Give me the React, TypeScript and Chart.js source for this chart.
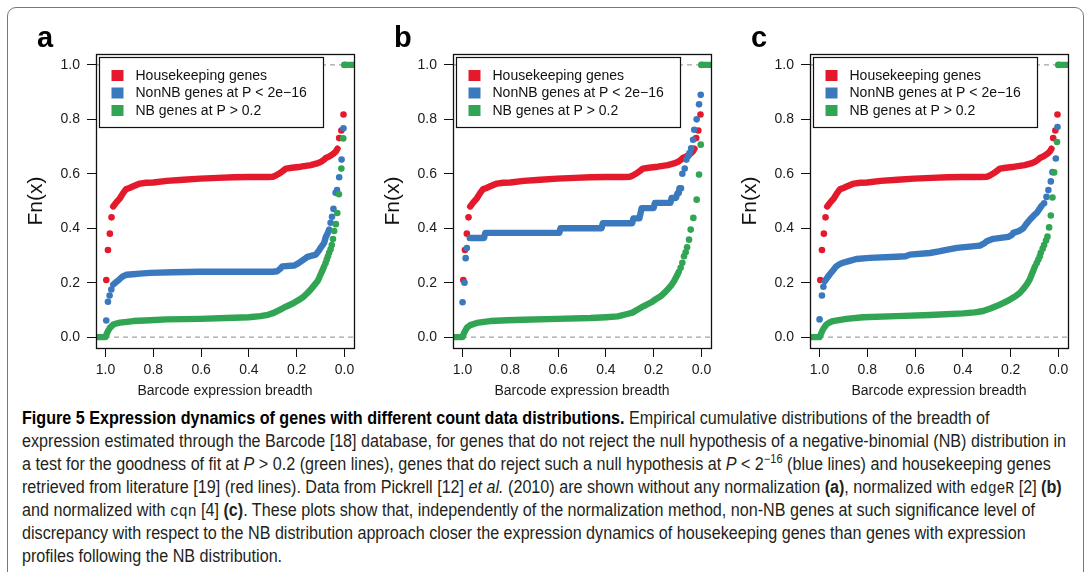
import React, { useEffect, useRef } from "react";
import { Chart, registerables } from "chart.js";

Chart.register(...registerables);

// ---------- axes ----------
const xTickValues = [0.0, 0.2, 0.4, 0.6, 0.8, 1.0];
const yTickValues = [0.0, 0.2, 0.4, 0.6, 0.8, 1.0];
const axisMin = -0.04;
const axisMax = 1.04;
const referenceLevels = [0, 1];
const xAxisTitle = "Barcode expression breadth";
const yAxisTitle = "Fn(x)";

// ---------- series ----------
const seriesLabels = ["Housekeeping genes", "NonNB genes at P < 2e\u221216", "NB genes at P > 0.2"];
const seriesColors = ["#e41a2c", "#3a79be", "#31a553"];
const panelLetters = ["a", "b", "c"];

type Pt = [number, number];

// Housekeeping genes (identical in the three panels)
const hkCurve: Pt[] = [
  [0.968, 0.48], [0.955, 0.495], [0.94, 0.51], [0.926, 0.53], [0.915, 0.543], [0.9, 0.548],
  [0.884, 0.554], [0.856, 0.564], [0.83, 0.567], [0.8, 0.568], [0.744, 0.574], [0.674, 0.578],
  [0.604, 0.582], [0.53, 0.585], [0.464, 0.587], [0.4, 0.588], [0.324, 0.588], [0.3, 0.589],
  [0.289, 0.593], [0.275, 0.6], [0.26, 0.609], [0.245, 0.619], [0.22, 0.622], [0.183, 0.626],
  [0.141, 0.632], [0.115, 0.638], [0.1, 0.643], [0.085, 0.652], [0.078, 0.658], [0.065, 0.663],
  [0.057, 0.667], [0.043, 0.676], [0.035, 0.683], [0.029, 0.692],
];
const hkDots: Pt[] = [
  [0.997, 0.21], [0.99, 0.32], [0.982, 0.38], [0.975, 0.44],
  [0.022, 0.731], [0.013, 0.759], [0.004, 0.818],
];

// Panel a: no normalization
const aNonNbCurve: Pt[] = [
  [0.968, 0.193], [0.955, 0.203], [0.947, 0.208], [0.935, 0.218], [0.926, 0.224], [0.912, 0.229],
  [0.885, 0.231], [0.856, 0.233], [0.814, 0.236], [0.716, 0.238], [0.604, 0.24], [0.464, 0.24],
  [0.3, 0.24], [0.282, 0.242], [0.27, 0.25], [0.26, 0.26], [0.211, 0.263], [0.195, 0.27],
  [0.183, 0.277], [0.165, 0.288], [0.155, 0.295], [0.12, 0.303], [0.105, 0.32], [0.1, 0.328],
  [0.09, 0.34], [0.085, 0.346], [0.078, 0.368], [0.071, 0.38], [0.064, 0.395],
];
const aNonNbDots: Pt[] = [
  [0.997, 0.061], [0.99, 0.13], [0.983, 0.153], [0.976, 0.175],
  [0.058, 0.42], [0.052, 0.442], [0.046, 0.471], [0.037, 0.53], [0.031, 0.54],
  [0.022, 0.587], [0.012, 0.652], [0.004, 0.767],
];
const aNbCurve: Pt[] = [
  [1.04, 0], [1.0, 0], [0.996, 0.01], [0.99, 0.022], [0.982, 0.034], [0.968, 0.046],
  [0.955, 0.05], [0.94, 0.053], [0.91, 0.056], [0.884, 0.059], [0.814, 0.062], [0.744, 0.065],
  [0.604, 0.067], [0.464, 0.071], [0.4, 0.073], [0.352, 0.077], [0.32, 0.082], [0.296, 0.089],
  [0.275, 0.098], [0.254, 0.108], [0.232, 0.117], [0.211, 0.126], [0.19, 0.137], [0.169, 0.15],
  [0.155, 0.162], [0.141, 0.175], [0.127, 0.19], [0.113, 0.205], [0.106, 0.218], [0.1, 0.23],
  [0.092, 0.245], [0.085, 0.26],
];
const aNbDots: Pt[] = [
  [0.079, 0.272], [0.074, 0.285], [0.069, 0.297], [0.064, 0.31], [0.058, 0.323], [0.053, 0.338],
  [0.048, 0.36], [0.043, 0.39], [0.036, 0.415], [0.03, 0.456], [0.023, 0.525], [0.013, 0.619],
  [0.005, 0.73], [0.0, 1.0],
];

// Panel b: edgeR
const bNonNbCurve: Pt[] = [
  [0.97, 0.364], [0.91, 0.364], [0.905, 0.383], [0.595, 0.383], [0.59, 0.4], [0.418, 0.4],
  [0.413, 0.418], [0.29, 0.418], [0.285, 0.436], [0.26, 0.436], [0.255, 0.455], [0.25, 0.474],
  [0.2, 0.474], [0.195, 0.493], [0.13, 0.493], [0.125, 0.511], [0.107, 0.511], [0.1, 0.529],
  [0.095, 0.529], [0.092, 0.547], [0.085, 0.547],
];
const bNonNbDots: Pt[] = [
  [1.0, 0.128], [0.992, 0.2], [0.987, 0.29], [0.982, 0.327],
  [0.08, 0.6], [0.07, 0.619], [0.063, 0.652], [0.055, 0.665], [0.05, 0.676], [0.043, 0.694],
  [0.035, 0.725], [0.03, 0.762], [0.02, 0.8], [0.01, 0.855], [0.003, 0.89],
];
const bNbCurve: Pt[] = [
  [1.04, 0], [1.0, 0], [0.996, 0.01], [0.99, 0.022], [0.982, 0.034], [0.968, 0.044],
  [0.94, 0.052], [0.91, 0.056], [0.884, 0.059], [0.814, 0.062], [0.744, 0.064], [0.604, 0.067],
  [0.464, 0.07], [0.4, 0.073], [0.35, 0.076], [0.311, 0.085], [0.289, 0.09], [0.265, 0.102],
  [0.241, 0.114], [0.21, 0.128], [0.19, 0.14], [0.171, 0.15], [0.15, 0.167], [0.129, 0.187],
  [0.115, 0.205], [0.103, 0.225], [0.095, 0.24],
];
const bNbDots: Pt[] = [
  [0.087, 0.255], [0.08, 0.273], [0.073, 0.297], [0.066, 0.312], [0.06, 0.33], [0.052, 0.358],
  [0.045, 0.395], [0.034, 0.438], [0.02, 0.505], [0.01, 0.597], [0.003, 0.707], [0.0, 1.0],
];

// Panel c: cqn
const cNonNbCurve: Pt[] = [
  [0.978, 0.205], [0.968, 0.218], [0.958, 0.23], [0.944, 0.245], [0.93, 0.26], [0.916, 0.268],
  [0.902, 0.273], [0.874, 0.28], [0.846, 0.287], [0.79, 0.291], [0.678, 0.295], [0.64, 0.297],
  [0.622, 0.303], [0.538, 0.309], [0.5, 0.315], [0.48, 0.319], [0.425, 0.328], [0.329, 0.336],
  [0.31, 0.345], [0.3, 0.352], [0.273, 0.361], [0.21, 0.368], [0.195, 0.375], [0.189, 0.383],
  [0.165, 0.39], [0.147, 0.4], [0.135, 0.415], [0.119, 0.432], [0.105, 0.445], [0.091, 0.456],
  [0.08, 0.47], [0.07, 0.483],
];
const cNonNbDots: Pt[] = [
  [1.0, 0.065], [0.99, 0.153], [0.984, 0.185],
  [0.06, 0.492], [0.05, 0.515], [0.042, 0.54], [0.032, 0.572], [0.025, 0.606], [0.011, 0.656],
  [0.004, 0.772],
];
const cNbCurve: Pt[] = [
  [1.04, 0], [1.0, 0], [0.993, 0.014], [0.986, 0.028], [0.972, 0.046], [0.958, 0.054],
  [0.944, 0.059], [0.888, 0.067], [0.818, 0.073], [0.678, 0.077], [0.538, 0.081], [0.399, 0.087],
  [0.35, 0.091], [0.315, 0.096], [0.285, 0.105], [0.259, 0.114], [0.23, 0.126], [0.203, 0.138],
  [0.18, 0.15], [0.161, 0.163], [0.147, 0.177], [0.133, 0.193], [0.12, 0.212], [0.112, 0.23],
  [0.105, 0.245], [0.098, 0.26],
];
const cNbDots: Pt[] = [
  [0.091, 0.272], [0.084, 0.285], [0.078, 0.297], [0.074, 0.31], [0.066, 0.325], [0.06, 0.338],
  [0.052, 0.355], [0.046, 0.369], [0.039, 0.403], [0.032, 0.447], [0.025, 0.513], [0.018, 0.605],
  [0.006, 0.717], [0.0, 1.0],
];

// final ECDF segment of the NB series (F = 1 beyond breadth 0)
const nbTail: Pt[] = [[0.0, 1.0], [-0.04, 1.0]];

const FONT = "'Liberation Sans', Arial, Helvetica, sans-serif";

const framePlugin = {
  id: "frame",
  afterDatasetsDraw(chart: any) {
    const { ctx, chartArea: a } = chart;
    const lx = Math.round(a.left + 3) + 0.5;
    const ly = Math.round(a.top + 3) + 0.5;
    const lw = 224;
    const lh = 70;
    ctx.save();
    ctx.fillStyle = "#ffffff";
    ctx.fillRect(lx, ly, lw, lh);
    ctx.strokeStyle = "#111";
    ctx.lineWidth = 1.2;
    ctx.strokeRect(lx, ly, lw, lh);
    ctx.font = `14px ${FONT}`;
    ctx.textBaseline = "middle";
    ctx.textAlign = "left";
    const items = chart.data.datasets.filter((d: any) => d.legendItem);
    items.forEach((d: any, i: number) => {
      const cy = ly + 18 + i * 17.5;
      ctx.fillStyle = d.backgroundColor;
      ctx.fillRect(lx + 12, cy - 5.5, 12, 11);
      ctx.fillStyle = "#111";
      ctx.fillText(d.label, lx + 36, cy + 0.5);
    });
    ctx.restore();
  },
  afterDraw(chart: any) {
    const { ctx, chartArea: a } = chart;
    ctx.save();
    ctx.strokeStyle = "#111";
    ctx.lineWidth = 1.3;
    ctx.strokeRect(Math.round(a.left) + 0.5, Math.round(a.top) + 0.5, Math.round(a.right - a.left), Math.round(a.bottom - a.top));
    ctx.restore();
  },
};

function toXY(pts: Pt[]) {
  return pts.map(([x, y]) => ({ x, y }));
}

interface PanelProps {
  left: number;
  letter: string;
  nonCurve: Pt[];
  nonDots: Pt[];
  nbCurve: Pt[];
  nbDots: Pt[];
}

function Panel({ left, letter, nonCurve, nonDots, nbCurve, nbDots }: PanelProps) {
  const ref = useRef<HTMLCanvasElement | null>(null);
  useEffect(() => {
    if (!ref.current) return;
    const groups: [Pt[], Pt[], number][] = [
      [hkCurve, hkDots, 0],
      [nonCurve, nonDots, 1],
      [nbCurve, nbDots, 2],
    ];
    const datasets: any[] = [];
    referenceLevels.forEach((lvl) => {
      datasets.push({
        type: "line",
        data: [{ x: axisMax, y: lvl }, { x: axisMin, y: lvl }],
        borderColor: "#a3a3a3",
        borderWidth: 1.2,
        borderDash: [5, 4],
        pointRadius: 0,
        order: 10,
        clip: 0,
      });
    });
    groups.forEach(([curve, dots, k]) => {
      const color = seriesColors[k];
      datasets.push({
        type: "scatter",
        label: seriesLabels[k],
        legendItem: true,
        data: toXY(dots),
        backgroundColor: color,
        borderColor: color,
        pointRadius: 3.3,
        pointBorderWidth: 0,
        pointHoverRadius: 3.3,
        showLine: false,
        order: 3 - k,
      });
      datasets.push({
        type: "scatter",
        data: toXY(curve),
        borderColor: color,
        backgroundColor: color,
        borderWidth: 6.4,
        borderCapStyle: "round",
        borderJoinStyle: "round",
        pointRadius: 0,
        showLine: true,
        tension: 0,
        order: 3 - k,
        clip: 0,
      });
    });
    datasets.push({
      type: "scatter",
      data: toXY(nbTail),
      borderColor: seriesColors[2],
      backgroundColor: seriesColors[2],
      borderWidth: 6.4,
      borderCapStyle: "round",
      pointRadius: 0,
      showLine: true,
      order: 1,
      clip: 0,
    });

    const tickFont = { size: 14, family: FONT };
    const chart = new Chart(ref.current, {
      type: "scatter",
      data: { datasets },
      options: {
        animation: false,
        responsive: false,
        maintainAspectRatio: false,
        events: [],
        layout: { padding: { top: 34, right: 7, left: 0, bottom: 0 } },
        plugins: { legend: { display: false }, tooltip: { enabled: false } },
        scales: {
          x: {
            type: "linear",
            reverse: true,
            min: axisMin,
            max: axisMax,
            afterBuildTicks: (s: any) => {
              s.ticks = xTickValues.map((v) => ({ value: v }));
            },
            afterFit: (s: any) => {
              s.height = 52;
            },
            ticks: {
              callback: (v: any) => Number(v).toFixed(1),
              font: tickFont,
              color: "#1a1a1a",
              padding: 5,
              maxRotation: 0,
              autoSkip: false,
            },
            grid: { display: true, drawOnChartArea: false, drawTicks: true, tickLength: 9, color: "#111", lineWidth: 1 },
            border: { display: false },
            title: { display: true, text: xAxisTitle, font: { size: 14, family: FONT }, color: "#1a1a1a", padding: { top: 0, bottom: 0 } },
          },
          y: {
            type: "linear",
            min: axisMin,
            max: axisMax,
            afterBuildTicks: (s: any) => {
              s.ticks = yTickValues.map((v) => ({ value: v }));
            },
            afterFit: (s: any) => {
              s.width = 76;
            },
            ticks: {
              callback: (v: any) => Number(v).toFixed(1),
              font: tickFont,
              color: "#1a1a1a",
              padding: 7,
              autoSkip: false,
            },
            grid: { display: true, drawOnChartArea: false, drawTicks: true, tickLength: 9, color: "#111", lineWidth: 1 },
            border: { display: false },
            title: { display: true, text: yAxisTitle, font: { size: 21, family: FONT }, color: "#111", padding: { top: 4, bottom: 0 } },
          },
        },
      } as any,
      plugins: [framePlugin],
    });
    return () => chart.destroy();
  }, [nonCurve, nonDots, nbCurve, nbDots]);

  return (
    <>
      <canvas ref={ref} width={341} height={380} style={{ position: "absolute", left, top: 20, width: 341, height: 380 }} />
      <div
        style={{
          position: "absolute",
          left: left + 17,
          top: 23,
          font: `bold 29px ${FONT}`,
          lineHeight: "29px",
          color: "#000",
        }}
      >
        {letter}
      </div>
    </>
  );
}

const capFont = "'Liberation Sans', Arial, sans-serif";
const mono: React.CSSProperties = { fontFamily: "'Liberation Mono', 'DejaVu Sans Mono', monospace", fontSize: 16, lineHeight: "10px" };
const capLine: React.CSSProperties = { height: 23, lineHeight: "23px", overflow: "visible" };

export default function App() {
  return (
    <div style={{ position: "fixed", left: 0, top: 0, width: 1087, height: 572, overflow: "hidden", background: "#fff" }}>
      <div
        style={{
          position: "absolute",
          left: 7,
          top: 7,
          width: 1077,
          height: 600,
          border: "1px solid #777",
          borderRadius: 9,
          boxSizing: "border-box",
        }}
      />
      <Panel left={20} letter={panelLetters[0]} nonCurve={aNonNbCurve} nonDots={aNonNbDots} nbCurve={aNbCurve} nbDots={aNbDots} />
      <Panel left={377} letter={panelLetters[1]} nonCurve={bNonNbCurve} nonDots={bNonNbDots} nbCurve={bNbCurve} nbDots={bNbDots} />
      <Panel left={734} letter={panelLetters[2]} nonCurve={cNonNbCurve} nonDots={cNonNbDots} nbCurve={cNbCurve} nbDots={cNbDots} />
      <div
        style={{
          position: "absolute",
          left: 22,
          top: 407,
          fontFamily: capFont,
          fontSize: 17.5,
          color: "#231f20",
          whiteSpace: "nowrap",
          transform: "scaleX(0.922)",
          transformOrigin: "0 0",
        }}
      >
        <div style={capLine}>
          <b style={{ color: "#000" }}>Figure 5 Expression dynamics of genes with different count data distributions.</b> Empirical cumulative distributions of the breadth of
        </div>
        <div style={capLine}>
          expression estimated through the Barcode [18] database, for genes that do not reject the null hypothesis of a negative-binomial (NB) distribution in
        </div>
        <div style={capLine}>
          a test for the goodness of fit at <i>P</i> &gt; 0.2 (green lines), genes that do reject such a null hypothesis at <i>P</i> &lt; 2
          <span style={{ fontSize: 12, position: "relative", top: -7, lineHeight: 0 }}>{"\u221216"}</span> (blue lines) and housekeeping genes
        </div>
        <div style={capLine}>
          retrieved from literature [19] (red lines). Data from Pickrell [12] <i>et al.</i> (2010) are shown without any normalization <b>(a)</b>, normalized with{" "}
          <span style={mono}>edgeR</span> [2] <b>(b)</b>
        </div>
        <div style={capLine}>
          and normalized with <span style={mono}>cqn</span> [4] <b>(c)</b>. These plots show that, independently of the normalization method, non-NB genes at such significance level of
        </div>
        <div style={capLine}>
          discrepancy with respect to the NB distribution approach closer the expression dynamics of housekeeping genes than genes with expression
        </div>
        <div style={capLine}>profiles following the NB distribution.</div>
      </div>
    </div>
  );
}
